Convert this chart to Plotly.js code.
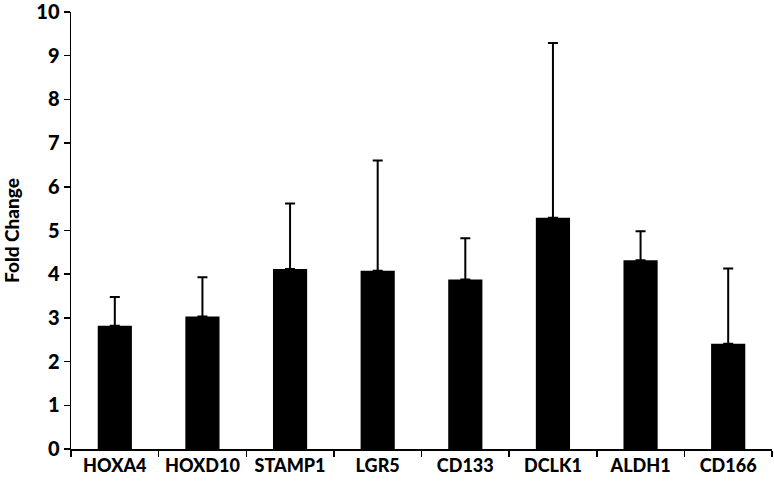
<!DOCTYPE html>
<html>
<head>
<meta charset="utf-8">
<script src="https://cdn.plot.ly/plotly-3.0.1.min.js"></script>
<style>
  html, body { margin: 0; padding: 0; background: #fff; }
  #chart { width: 774px; height: 486px; }
</style>
</head>
<body>
<div id="chart"></div>
<script>
// genes and fold change values
var genes = ["HOXA4", "HOXD10", "STAMP1", "LGR5", "CD133", "DCLK1", "ALDH1", "CD166"];
var foldChange = [2.82, 3.03, 4.12, 4.08, 3.88, 5.29, 4.32, 2.41];
// top of each error bar
var errorTop = [3.48, 3.93, 5.62, 6.60, 4.82, 9.29, 4.98, 4.13];
var yTicks = [0, 1, 2, 3, 4, 5, 6, 7, 8, 9, 10];

var errUp = foldChange.map(function (v, i) { return +(errorTop[i] - v).toFixed(2); });

var trace = {
  type: "bar",
  x: genes,
  y: foldChange,
  marker: { color: "#000000", line: { width: 0 } },
  error_y: {
    type: "data",
    symmetric: false,
    array: errUp,
    arrayminus: genes.map(function () { return 0; }),
    color: "#000000",
    thickness: 2,
    width: 5
  },
  hoverinfo: "none"
};

var fontFam = "Lato, 'Open Sans', 'DejaVu Sans', sans-serif";

var layout = {
  width: 774,
  height: 486,
  margin: { l: 71, r: 2, t: 12, b: 37 },
  paper_bgcolor: "#ffffff",
  plot_bgcolor: "#ffffff",
  showlegend: false,
  bargap: 0.61,
  font: { family: fontFam, color: "#000000" },
  xaxis: {
    showline: true,
    linecolor: "#000000",
    linewidth: 1.5,
    ticks: "outside",
    tickson: "boundaries",
    ticklen: 6,
    tickcolor: "#000000",
    tickwidth: 1.5,
    tickfont: { family: fontFam, size: 18, weight: 900 },
    showgrid: false,
    zeroline: false
  },
  yaxis: {
    range: [0, 10],
    tickmode: "array",
    tickvals: yTicks,
    ticktext: yTicks.map(String),
    ticklabeloverflow: "allow",
    showline: true,
    linecolor: "#000000",
    linewidth: 1.5,
    ticks: "outside",
    ticklen: 6,
    tickcolor: "#000000",
    tickwidth: 1.5,
    tickfont: { family: fontFam, size: 20, weight: 900 },
    showgrid: false,
    zeroline: false,
    title: { text: "Fold Change", font: { family: fontFam, size: 19, weight: 900 }, standoff: 12 }
  }
};

Plotly.newPlot("chart", [trace], layout, { displayModeBar: false, staticPlot: true });
</script>
</body>
</html>
